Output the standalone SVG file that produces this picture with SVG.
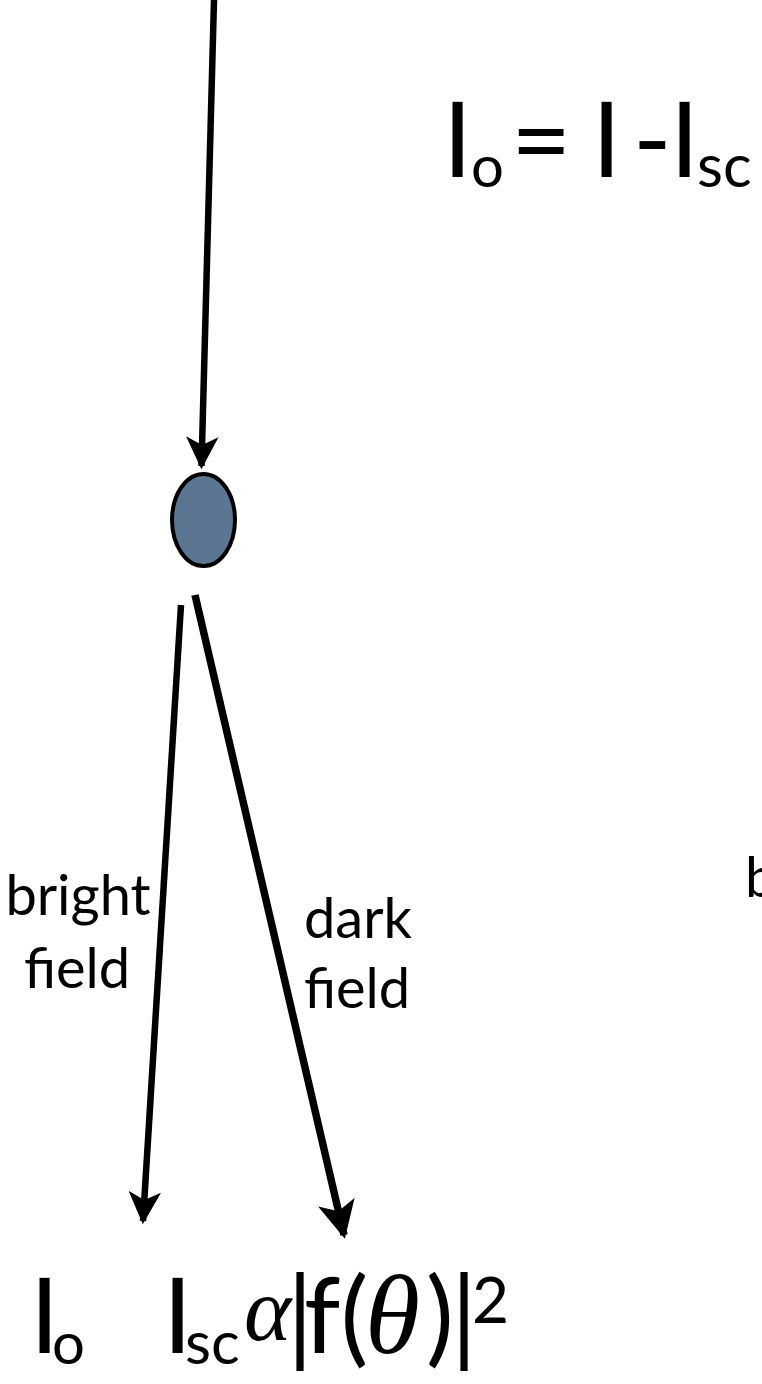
<svg xmlns="http://www.w3.org/2000/svg" width="762" height="1384" viewBox="0 0 762 1384">
<style>
.t{font-family:Lato,"Open Sans","Liberation Sans",sans-serif;fill:#000}
.g{font-family:"Liberation Serif","DejaVu Serif",serif;font-style:italic}
.ln{stroke:#000;fill:none}
</style>
<defs>
<marker id="ah" viewBox="0 0 10 10" refX="9" refY="5" markerWidth="5" markerHeight="5" markerUnits="strokeWidth" orient="auto">
<path d="M0,0 L10,5 L0,10 L2.5,5 Z" fill="#000"/>
</marker>
</defs>
<rect width="762" height="1384" fill="#fff"/>
<g id="connectors">
<line class="ln" x1="214" y1="0" x2="201.5" y2="466" stroke-width="6.5" marker-end="url(#ah)"/>
<line class="ln" x1="181" y1="605" x2="143" y2="1221" stroke-width="6.5" marker-end="url(#ah)"/>
<line class="ln" x1="195" y1="595" x2="344" y2="1235" stroke-width="7.5" marker-end="url(#ah)"/>
</g>
<g id="particle">
<ellipse cx="203.5" cy="520" rx="31.5" ry="46" fill="#5b7593" stroke="#000" stroke-width="4"/>
</g>
<g id="formula-top">
<text class="t" font-size="104"><tspan x="443" y="177">I</tspan><tspan x="471" y="187" font-size="58">o</tspan><tspan x="511" y="177">=</tspan><tspan x="592" y="177">I</tspan><tspan x="633" y="177">-</tspan><tspan x="670" y="177">I</tspan><tspan x="697" y="187" font-size="60">sc</tspan></text>
</g>
<g id="label-bright">
<text class="t" x="78" y="915" font-size="56" text-anchor="middle">bright</text>
<text class="t" x="77" y="988" font-size="56" text-anchor="middle">field</text>
</g>
<g id="label-dark">
<text class="t" x="358" y="938" font-size="56" text-anchor="middle">dark</text>
<text class="t" x="357" y="1008" font-size="56" text-anchor="middle">field</text>
</g>
<g id="label-right">
<text class="t" x="745" y="897" font-size="56">b</text>
</g>
<g id="formula-bottom-left">
<text class="t" font-size="104"><tspan x="30" y="1353">I</tspan><tspan x="52" y="1364" font-size="58">o</tspan></text>
</g>
<g id="formula-bottom-right">
<text class="t" font-size="104"><tspan x="163" y="1353">I</tspan><tspan x="185" y="1364" font-size="60">sc</tspan><tspan class="g" x="244" y="1340" font-size="90">α</tspan><tspan x="287" y="1353">|</tspan><tspan x="304" y="1353">f(</tspan><tspan class="g" x="365" y="1353" font-size="112">θ</tspan><tspan x="426" y="1353">)</tspan><tspan x="451" y="1353">|</tspan><tspan x="472" y="1323" font-size="64">2</tspan></text>
</g>
</svg>
